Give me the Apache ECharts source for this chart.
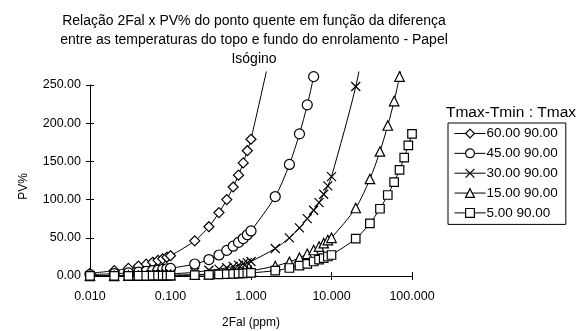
<!DOCTYPE html>
<html>
<head>
<meta charset="utf-8">
<script src="https://cdn.jsdelivr.net/npm/echarts@6/dist/echarts.min.js"></script>
<style>
  html, body { margin: 0; padding: 0; background: #fff; }
  #chart { width: 583px; height: 331px; }
</style>
</head>
<body>
<div id="chart"></div>
<script>
// 2Fal (ppm) values shared by every curve
const xValues = [0.01, 0.02, 0.03, 0.04, 0.05, 0.06, 0.07, 0.08, 0.09, 0.1,
  0.2, 0.3, 0.4, 0.5, 0.6, 0.7, 0.8, 0.9, 1,
  2, 3, 4, 5, 6, 7, 8, 9, 10,
  20, 30, 40, 50, 60, 70, 80, 90, 100];

// PV% per curve (Tmax-Tmin : Tmax); curves stop once off the top
const pv60 = [3.5, 7, 10, 13, 15.5, 18, 20.5, 22.5, 24.5, 26.5,
  46, 64.5, 83, 100, 116.5, 132, 148, 164, 179,
  320];
const pv45 = [1.8, 3, 4, 5, 6, 7, 7.8, 8.6, 9.4, 10,
  15.7, 21.5, 27.5, 33.5, 39, 44, 49, 54, 59,
  104, 146, 186, 224, 261, 298];
const pv30 = [0.4, 0.7, 1, 1.3, 1.5, 1.8, 2, 2.3, 2.5, 2.8,
  4.8, 7.5, 9, 10.8, 12.5, 14.3, 16, 17.5, 19,
  36, 50, 63, 75, 86, 96, 107, 118, 130,
  248, 345];
const pv15 = [0.15, 0.27, 0.38, 0.5, 0.6, 0.7, 0.8, 0.9, 1, 1.1,
  1.8, 2.5, 3.2, 3.8, 4.4, 5, 5.6, 6.2, 6.8,
  13, 18.5, 24, 29, 34, 38.5, 43, 47, 50,
  89, 127, 163, 197, 229, 261, 292];
const pv5 = [0.1, 0.15, 0.2, 0.3, 0.35, 0.4, 0.45, 0.5, 0.55, 0.6,
  1.1, 1.6, 2, 2.4, 2.7, 3, 3.4, 3.7, 4,
  7, 10.5, 13.5, 16, 19, 21.5, 23.5, 25.5, 27.5,
  49, 69, 88, 106, 123, 139, 155, 171, 186];

const seriesNames = ['60.00 90.00', '45.00 90.00', '30.00 90.00', '15.00 90.00', '5.00 90.00'];
const yTicks = [0, 250, 50];   // min, max, interval
const xRange = [0.01, 100];

const FONT = 'Liberation Sans, Arial, sans-serif';
const crossPath = 'path://M0,0L10,10M0,10L10,0';
const symbols = ['diamond', 'circle', crossPath, 'triangle', 'rect'];
const symbolSizes = [10, 10, 9, 9.5, 8.5];
const curves = [pv60, pv45, pv30, pv15, pv5];

const chart = echarts.init(document.getElementById('chart'), null, { renderer: 'canvas' });

// the data grid reaches a little above 250 so curves run past the top label, like the original
const gridTop = 85, gridTopData = 72, gridBottom = 55;
const plotH = 331 - gridBottom - gridTop;
const dataMax = yTicks[1] * (331 - gridBottom - gridTopData) / plotH;

const series = curves.map((vals, i) => ({
  name: seriesNames[i],
  type: 'line',
  xAxisIndex: 1,
  yAxisIndex: 1,
  data: vals.map((v, k) => [xValues[k], v]),
  smooth: 0.3,
  symbol: symbols[i],
  symbolSize: symbolSizes[i],
  showAllSymbol: true,
  clip: true,
  lineStyle: { color: '#000', width: 1 },
  itemStyle: { color: '#fff', borderColor: '#000', borderWidth: 1.2 },
  emphasis: { disabled: true }
}));

chart.setOption({
  animation: false,
  backgroundColor: '#fff',
  title: [{
    text: 'Relação 2Fal x PV% do ponto quente em função da diferença\nentre as temperaturas do topo e fundo do enrolamento - Papel\nIsógino',
    left: 254,
    top: 12,
    padding: 0,
    textAlign: 'center',
    textStyle: { fontFamily: FONT, fontSize: 14, fontWeight: 'normal', color: '#000', lineHeight: 19 }
  }, {
    text: 'Tmax-Tmin : Tmax',
    left: 511,
    top: 105,
    padding: 0,
    textAlign: 'center',
    textStyle: { fontFamily: FONT, fontSize: 15.5, fontWeight: 'normal', color: '#000' }
  }],
  legend: {
    orient: 'vertical',
    left: 448,
    top: 123,
    padding: [3.5, 8, 4.5, 6],
    borderColor: '#000',
    borderWidth: 1,
    itemWidth: 31,
    itemHeight: 11,
    itemGap: 5.85,
    selectedMode: false,
    data: seriesNames,
    itemStyle: { color: '#fff', borderColor: '#000', borderWidth: 1.2 },
    lineStyle: { color: '#000', width: 1 },
    textStyle: { fontFamily: FONT, fontSize: 13.5, color: '#000', lineHeight: 14, padding: [0, 0, 0, -4] }
  },
  grid: [
    { left: 90, right: 171, top: gridTop, bottom: gridBottom, outerBoundsMode: 'none' },
    { left: 90, right: 171, top: gridTopData, bottom: gridBottom, outerBoundsMode: 'none' }
  ],
  xAxis: [{
    gridIndex: 0,
    type: 'log',
    logBase: 10,
    min: xRange[0],
    max: xRange[1],
    name: '2Fal (ppm)',
    nameLocation: 'middle',
    nameGap: 41,
    nameTextStyle: { fontFamily: FONT, fontSize: 12, color: '#000' },
    axisLine: { lineStyle: { color: '#000', width: 1 } },
    axisTick: { show: true, inside: false, length: 4, lineStyle: { color: '#000' } },
    minorTick: { show: false },
    splitLine: { show: false },
    axisLabel: {
      fontFamily: FONT, fontSize: 12.5, color: '#000', margin: 14,
      formatter: v => Number(v).toFixed(3)
    }
  }, {
    gridIndex: 1,
    type: 'log',
    logBase: 10,
    min: xRange[0],
    max: xRange[1],
    axisLine: { show: false },
    axisTick: { show: true, inside: true, length: 4, lineStyle: { color: '#000' } },
    axisLabel: { show: false },
    splitLine: { show: false }
  }],
  yAxis: [{
    gridIndex: 0,
    type: 'value',
    min: yTicks[0],
    max: yTicks[1],
    interval: yTicks[2],
    name: 'PV%',
    nameLocation: 'middle',
    nameGap: 60,
    nameTextStyle: { fontFamily: FONT, fontSize: 12, color: '#000', padding: [0, 12, 0, 0] },
    axisLine: { show: true, lineStyle: { color: '#000', width: 1 } },
    axisTick: { show: true, inside: false, length: 4, lineStyle: { color: '#000' } },
    splitLine: { show: false },
    axisLabel: {
      fontFamily: FONT, fontSize: 12.5, color: '#000', margin: 9,
      formatter: v => v.toFixed(2)
    }
  }, {
    gridIndex: 1,
    type: 'value',
    min: 0,
    max: dataMax,
    show: false
  }, {
    gridIndex: 0,
    type: 'value',
    position: 'left',
    min: yTicks[0],
    max: yTicks[1],
    interval: yTicks[2],
    axisLine: { show: false },
    axisTick: { show: true, inside: true, length: 4, lineStyle: { color: '#000' } },
    axisLabel: { show: false },
    splitLine: { show: false }
  }],
  series: series
});
</script>
</body>
</html>
